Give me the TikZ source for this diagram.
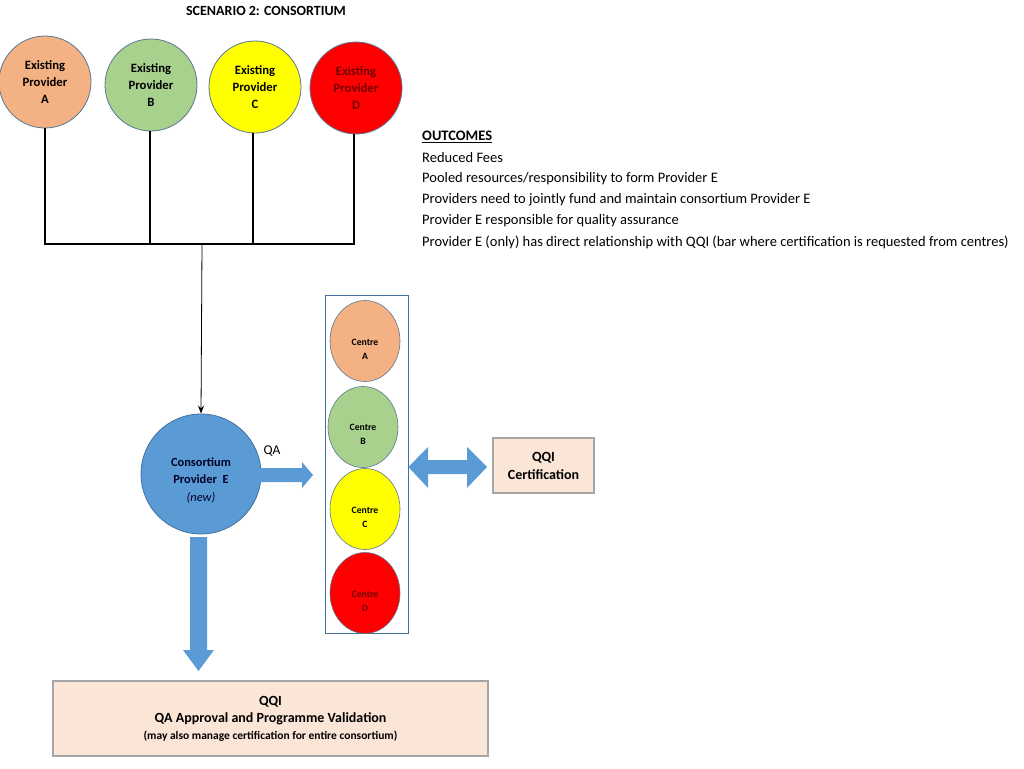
\documentclass[tikz,border=0pt]{standalone}
\usepackage{fontspec}
\setmainfont{Carlito}
\usetikzlibrary{shapes.geometric,arrows.meta,shapes.arrows}
\definecolor{cA}{HTML}{F4B183}
\definecolor{cB}{HTML}{A9D18E}
\definecolor{cC}{HTML}{FFFF00}
\definecolor{cD}{HTML}{FF0000}
\definecolor{dred}{HTML}{6E0000}
\definecolor{eblue}{HTML}{5B9BD5}
\definecolor{eborder}{HTML}{41719C}
\definecolor{peach}{HTML}{FBE5D6}
\definecolor{gborder}{HTML}{A6A6A6}
\definecolor{fat}{HTML}{5B9BD5}
\tikzset{
  x=1pt,y=-1pt,
  prov/.style={ellipse,draw=eborder!60!gray,line width=0.8pt,minimum width=92pt,minimum height=92pt,inner sep=0pt,align=center,font=\fontsize{12.7}{17}\selectfont\bfseries},
  centre/.style={ellipse,draw=eborder!60!gray,line width=0.6pt,minimum width=70pt,minimum height=81pt,inner sep=0pt},
  centretext/.style={align=center,inner sep=0pt,font=\fontsize{9.7}{14}\selectfont\bfseries},
  qqibox/.style={draw=gborder,line width=1.5pt,fill=peach,align=center,inner sep=0pt},
  conn/.style={line width=1.6pt,black},
  outl/.style={anchor=west,font=\fontsize{14.5}{16}\selectfont,inner sep=0pt}
}
\begin{document}
\begin{tikzpicture}
\useasboundingbox (0,0) rectangle (1024,768);
\node[font=\fontsize{14}{16}\selectfont\bfseries] (title) at (266,11) {SCENARIO 2: CONSORTIUM};
% providers
\node[prov,fill=cA] (pA) at (45,82) {Existing\\Provider\\A};
\node[prov,fill=cB] (pB) at (151,85) {Existing\\Provider\\B};
\node[prov,fill=cC] (pC) at (255,87) {Existing\\Provider\\C};
\node[prov,fill=cD,text=dred] (pD) at (356,88) {Existing\\Provider\\D};
\coordinate (jA) at (45,244);
\coordinate (jB) at (150,244);
\coordinate (jC) at (253,244);
\coordinate (jD) at (354,244);
\coordinate (jM) at (202,244);
\draw[conn] (pA.south) -- (jA);
\draw[conn] (pB.south -| jB) -- (jB);
\draw[conn] (pC.south -| jC) -- (jC);
\draw[conn] (pD.south -| jD) -- (jD);
\draw[conn,line cap=rect] (jA) -- (jD);
% consortium
\node[circle,draw=eborder,line width=0.8pt,fill=eblue,minimum size=120pt,inner sep=0pt] (E) at (201,474) {};
\node[align=center,inner sep=0pt,text=black!85!blue,font=\fontsize{12.4}{17.5}\selectfont] (Et) at (201,480) {\textbf{Consortium}\\\textbf{Provider\ \ E}\\\textit{(new)}};
\draw[line width=0.8pt,-{Stealth[length=8pt,width=6pt]}] (jM) -- (E.north);
% outcomes
\node[outl,font=\fontsize{14.5}{16}\selectfont\bfseries] (o0) at (422,137) {\underline{OUTCOMES}};
\node[outl] (o1) at (422,158) {Reduced Fees};
\node[outl] (o2) at (422,179) {Pooled resources/responsibility to form Provider E};
\node[outl] (o3) at (422,200) {Providers need to jointly fund and maintain consortium Provider E};
\node[outl] (o4) at (422,221) {Provider E responsible for quality assurance};
\node[outl] (o5) at (422,242) {Provider E (only) has direct relationship with QQI (bar where certification is requested from centres)};
% centres
\node[draw=eborder,line width=0.8pt,minimum width=83pt,minimum height=338pt,inner sep=0pt] (cbox) at (366.5,464) {};
\node[centre,fill=cA] (cA) at (365,341) {};
\node[centre,fill=cB] (cB) at (363,427) {};
\node[centre,fill=cC] (cC) at (365,509) {};
\node[centre,fill=cD] (cD) at (365,593) {};
\node[centretext] (tA) at (365,349) {Centre\\A};
\node[centretext] (tB) at (363,434) {Centre\\B};
\node[centretext] (tC) at (365,517) {Centre\\C};
\node[centretext,text=dred] (tD) at (365,601) {Centre\\D};
% QA arrow
\node[font=\fontsize{13.5}{15}\selectfont] (qa) at (272,451) {QA};
\fill[fat] (260,468) -- (302,468) -- (302,462) -- (313,475) -- (302,488) -- (302,482) -- (260,482) -- cycle;
% QQI certification
\node[qqibox,minimum width=101pt,minimum height=55pt,font=\fontsize{14}{18}\selectfont\bfseries] (cert) at (543.5,465.5) {QQI\\Certification};
% double arrow
\fill[fat] (cbox.east |- 0,467) -- (428,447) -- (428,460) -- (467,460) -- (467,447) -- (487,467) -- (467,488) -- (467,474) -- (428,474) -- (428,488) -- cycle;
% bottom box
\node[qqibox,minimum width=435pt,minimum height=75pt,font=\fontsize{14}{17}\selectfont\bfseries] (qqi) at (270.5,718.5) {%
  QQI\\
  QA Approval and Programme Validation\\
  {\fontsize{11.5}{16}\selectfont (may also manage certification for entire consortium)}};
% down fat arrow
\fill[fat] (190,537) -- (207,537) -- (207,650) -- (214,650) -- (198.5,671) -- (183,650) -- (190,650) -- cycle;
\end{tikzpicture}
\end{document}
